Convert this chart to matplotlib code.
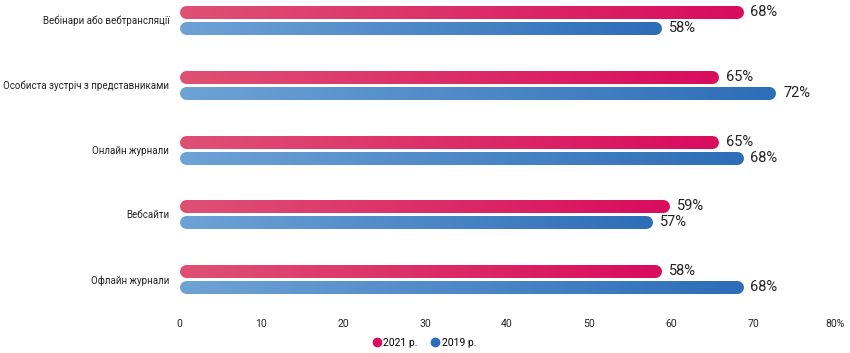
import numpy as np
import matplotlib
matplotlib.use("Agg")
import matplotlib.pyplot as plt
from matplotlib.collections import LineCollection
from matplotlib.colors import LinearSegmentedColormap
from matplotlib.lines import Line2D

plt.rcParams['font.family'] = ['Roboto', 'DejaVu Sans']

# --- data ---
categories = ['Вебінари або вебтрансляції', 'Особиста зустріч з представниками',
              'Онлайн журнали', 'Вебсайти', 'Офлайн журнали']
values_2021 = [68, 65, 65, 59, 58]
values_2019 = [58, 72, 68, 57, 68]
series_names = ['2021 р.', '2019 р.']
xticks = [0, 10, 20, 30, 40, 50, 60, 70, 80]
xtick_labels = ['0', '10', '20', '30', '40', '50', '60', '70', '80%']

cmap_2021 = LinearSegmentedColormap.from_list('c21', ['#de5073', '#d80d5e'])
cmap_2019 = LinearSegmentedColormap.from_list('c19', ['#6ea2d5', '#2e6eb8'])

W, H = 850, 353
fig = plt.figure(figsize=(W / 100, H / 100), dpi=100)
ax = fig.add_axes([179 / W, 53 / H, (835 - 179) / W, 300 / H])
ax.set_xlim(0, 80)
ax.set_ylim(4.32, -0.31)

px_per_unit = (835 - 179) / 80
bar_px = 13
lw = bar_px * 0.72
cap = (bar_px / 2) / px_per_unit
offset = 8 / 64.75


def gradient_bar(y, value, cmap):
    # many short segments with round caps -> rounded bar with a left-right gradient
    xs = np.linspace(cap, value, 120)
    segs = [[(xs[i], y), (xs[i + 1], y)] for i in range(len(xs) - 1)]
    cols = cmap(np.linspace(0, 1, len(segs)))
    lc = LineCollection(segs, colors=cols, linewidths=lw, capstyle='round')
    ax.add_collection(lc)
    ax.text(value + cap + 0.9, y, f'{value}%', va='center', ha='left',
            fontsize=10.5, color='#222222')


for i, cat in enumerate(categories):
    gradient_bar(i - offset, values_2021[i], cmap_2021)
    gradient_bar(i + offset, values_2019[i], cmap_2019)

ax.set_yticks(range(len(categories)))
ax.set_yticklabels(categories, fontsize=7.0, color='#222222')
ax.set_xticks(xticks)
ax.set_xticklabels(xtick_labels, fontsize=7.5, color='#222222')
ax.tick_params(axis='both', length=0)
ax.tick_params(axis='y', pad=7)
ax.tick_params(axis='x', pad=14)
for s in ax.spines.values():
    s.set_visible(False)

handles = [Line2D([], [], marker='o', ls='', color='#d80d5e', markersize=6),
           Line2D([], [], marker='o', ls='', color='#2e6eb8', markersize=6)]
fig.legend(handles, series_names, loc='center', bbox_to_anchor=(424 / W, 1 - 343 / H),
           ncol=2, frameon=False, fontsize=7.5, handletextpad=0.1, columnspacing=1.2,
           handlelength=1.0)

fig.savefig('out.png', dpi=100)
